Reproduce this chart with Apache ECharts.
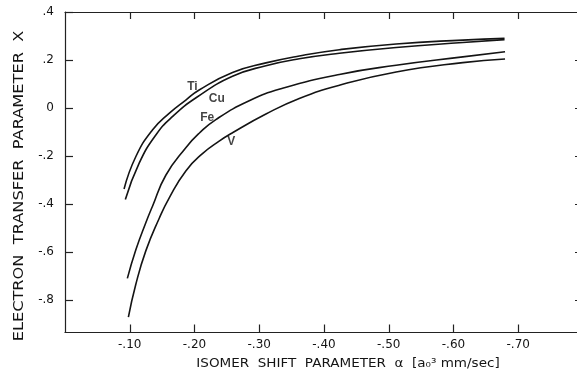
<!DOCTYPE html>
<html>
<head>
<meta charset="utf-8">
<script src="https://cdn.jsdelivr.net/npm/echarts@6/dist/echarts.min.js"></script>
<style>
  html, body { margin: 0; padding: 0; background: #fff; }
  #chart { width: 577px; height: 377px; }
</style>
</head>
<body>
<div id="chart"></div>
<script>
// ---- data (isomer shift parameter alpha, electron transfer parameter X) ----
const tiAlpha = [-0.0912, -0.1093, -0.135, -0.1608, -0.1866, -0.2072, -0.2587, -0.3103, -0.3618, -0.4237, -0.5114, -0.6144, -0.6788];
const tiX     = [-0.3375, -0.203, -0.0917, -0.022, 0.0333, 0.075, 0.148, 0.188, 0.217, 0.243, 0.267, 0.283, 0.290];

const cuAlpha = [-0.0932, -0.1144, -0.1403, -0.1659, -0.2041, -0.2587, -0.3103, -0.3618, -0.4237, -0.5114, -0.6144, -0.6788];
const cuX     = [-0.381, -0.2304, -0.1125, -0.036, 0.0458, 0.132, 0.176, 0.205, 0.228, 0.252, 0.273, 0.285];

const feAlpha = [-0.0963, -0.1093, -0.1248, -0.135, -0.1557, -0.1866, -0.2072, -0.233, -0.2845, -0.336, -0.4237, -0.5114, -0.6144, -0.6796];
const feX     = [-0.7096, -0.5917, -0.478, -0.41, -0.28, -0.165, -0.105, -0.048, 0.030, 0.082, 0.140, 0.178, 0.213, 0.2346];

const vAlpha  = [-0.0979, -0.1093, -0.1248, -0.1454, -0.1608, -0.1866, -0.2123, -0.2381, -0.2587, -0.3103, -0.3618, -0.4237, -0.5114, -0.6144, -0.6796];
const vX      = [-0.8708, -0.735, -0.595, -0.46, -0.375, -0.262, -0.19, -0.138, -0.103, -0.025, 0.040, 0.095, 0.150, 0.189, 0.2042];

// curve labels
const labelNames = ['Ti', 'Cu', 'Fe', 'V'];
const labelAlpha = [-0.1968, -0.2343, -0.2196, -0.2567];
const labelX     = [0.089, 0.040, -0.042, -0.140];

// ticks
const xTickValues = [-0.1, -0.2, -0.3, -0.4, -0.5, -0.6, -0.7];
const xTickLabels = ['-.10', '-.20', '-.30', '-.40', '-.50', '-.60', '-.70'];
const yTickValues = [0.4, 0.2, 0, -0.2, -0.4, -0.6, -0.8];
const yTickLabels = ['.4', '.2', '0', '-.2', '-.4', '-.6', '-.8'];

const xTitle = 'ISOMER  SHIFT  PARAMETER  α  [a₀³ mm/sec]';
const yTitle = 'ELECTRON  TRANSFER  PARAMETER  X';

// ---- build ----
function pairs(a, b) { return a.map((v, i) => [v, b[i]]); }
function lookup(vals, labels) {
  return function (v) {
    for (let i = 0; i < vals.length; i++) if (Math.abs(vals[i] - v) < 1e-6) return labels[i];
    return '';
  };
}

const ink = '#141414';
const font = 'DejaVu Sans';

const lineSeries = (name, a, b) => ({
  name, type: 'line', data: pairs(a, b), showSymbol: false, symbol: 'none',
  smooth: 0.5,
  lineStyle: { color: ink, width: 1.6 }, silent: true, animation: false
});

const axisBase = {
  type: 'value', min: -0.8, max: 0, inverse: true,
  splitLine: { show: false },
  axisLine: { show: true, onZero: false, lineStyle: { color: '#222', width: 1.2 } }
};
const yBase = {
  type: 'value', min: -0.935, max: 0.4,
  splitLine: { show: false },
  axisLine: { show: true, onZero: false, lineStyle: { color: '#222', width: 1.2 } }
};

const chart = echarts.init(document.getElementById('chart'), null, { renderer: 'canvas' });
chart.setOption({
  backgroundColor: '#ffffff',
  animation: false,
  grid: { left: 65, top: 12, width: 518, height: 320.5, containLabel: false, outerBoundsMode: 'none' },
  xAxis: [
    Object.assign({}, axisBase, {
      position: 'bottom',
      axisTick: { show: true, inside: true, length: 8, customValues: xTickValues, lineStyle: { color: '#222', width: 1.2 } },
      axisLabel: { show: true, customValues: xTickValues, formatter: lookup(xTickValues, xTickLabels),
        margin: 6, color: ink, fontSize: 12, fontFamily: font }
    }),
    Object.assign({}, axisBase, {
      position: 'top',
      axisTick: { show: true, inside: true, length: 7, customValues: xTickValues, lineStyle: { color: '#222', width: 1.2 } },
      axisLabel: { show: false }
    })
  ],
  yAxis: [
    Object.assign({}, yBase, {
      position: 'left',
      axisTick: { show: true, inside: true, length: 8, customValues: yTickValues, lineStyle: { color: '#222', width: 1.2 } },
      axisLabel: { show: true, customValues: yTickValues, formatter: lookup(yTickValues, yTickLabels),
        margin: 11, color: ink, fontSize: 12, fontFamily: font }
    }),
    Object.assign({}, yBase, {
      position: 'right',
      axisTick: { show: true, inside: true, length: 8, customValues: yTickValues.slice(1), lineStyle: { color: '#222', width: 1.2 } },
      axisLabel: { show: false }
    })
  ],
  series: [
    lineSeries('Ti', tiAlpha, tiX),
    lineSeries('Cu', cuAlpha, cuX),
    lineSeries('Fe', feAlpha, feX),
    lineSeries('V', vAlpha, vX),
    {
      name: 'labels', type: 'scatter', symbolSize: 0, silent: true,
      data: labelNames.map((n, i) => ({ value: [labelAlpha[i], labelX[i]], name: n })),
      label: { show: true, position: 'inside', formatter: p => p.name,
        color: ink, fontSize: 12, fontWeight: 'bold', fontFamily: 'Liberation Sans' }
    }
  ],
  graphic: [
    { type: 'text', x: 348, y: 364, scaleX: 1.04, silent: true,
      style: { text: xTitle, fill: ink, fontSize: 13, fontFamily: font, align: 'center', verticalAlign: 'middle' } },
    { type: 'text', x: 19, y: 186, rotation: Math.PI / 2, scaleX: 1.2, silent: true,
      style: { text: yTitle, fill: ink, fontSize: 13.5, fontFamily: font, align: 'center', verticalAlign: 'middle' } }
  ]
});
</script>
</body>
</html>
